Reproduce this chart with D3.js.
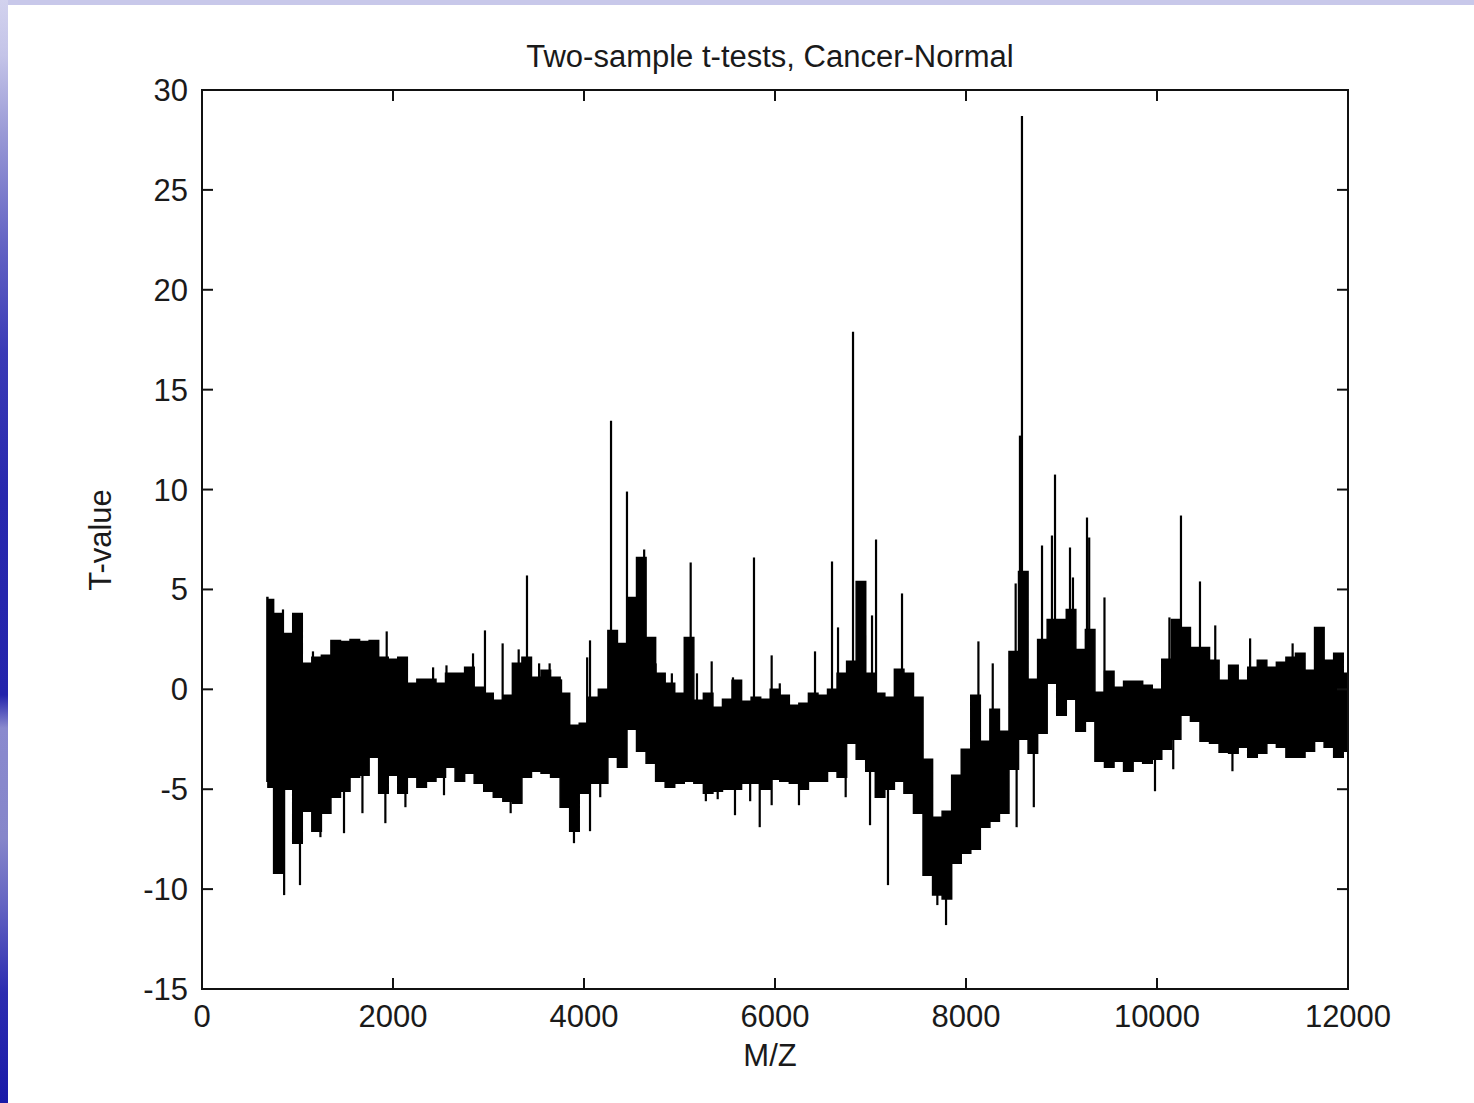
<!DOCTYPE html>
<html>
<head>
<meta charset="utf-8">
<script src="https://cdn.jsdelivr.net/npm/d3@7"></script>
<style>
  html, body { margin: 0; padding: 0; background: #ffffff; }
  svg { display: block; }
  text { font-family: "Liberation Sans", Arial, Helvetica, sans-serif; fill: #1a1a1a; }
</style>
</head>
<body>
<svg id="chart" width="1474" height="1103"></svg>
<script>
// ---------------- data ----------------
const title = "Two-sample t-tests, Cancer-Normal";
const xLabel = "M/Z";
const yLabel = "T-value";
const xTicks = [0, 2000, 4000, 6000, 8000, 10000, 12000];
const yTicks = [-15, -10, -5, 0, 5, 10, 15, 20, 25, 30];

// M/Z sample positions of the dense signal envelope
const mz = [680, 700, 800, 900, 1000, 1100, 1200, 1300, 1400, 1500, 1600, 1700, 1800, 1900,
  2000, 2100, 2200, 2300, 2400, 2500, 2600, 2700, 2800, 2900,
  3000, 3100, 3200, 3300, 3400, 3500, 3600, 3700, 3800, 3900,
  4000, 4100, 4200, 4300, 4400, 4500, 4600, 4700, 4800, 4900,
  5000, 5100, 5200, 5300, 5400, 5500, 5600, 5700, 5800, 5900,
  6000, 6100, 6200, 6300, 6400, 6500, 6600, 6700, 6800, 6900,
  7000, 7100, 7200, 7300, 7400, 7500, 7600, 7700, 7800, 7900,
  8000, 8100, 8200, 8300, 8400, 8500, 8600, 8700, 8800, 8900,
  9000, 9100, 9200, 9300, 9400, 9500, 9600, 9700, 9800, 9900,
  10000, 10100, 10200, 10300, 10400, 10500, 10600, 10700, 10800, 10900,
  11000, 11100, 11200, 11300, 11400, 11500, 11600, 11700, 11800, 11900, 12000];

// upper edge of the dense band of t-values
const tHigh = [4.6, 4.5, 3.8, 2.8, 3.8, 1.3, 1.6, 1.7, 2.45, 2.4, 2.5, 2.4, 2.45, 1.6,
  1.5, 1.6, 0.3, 0.5, 0.5, 0.3, 0.8, 0.8, 1.1, 0.1,
  -0.2, -0.55, -0.3, 1.3, 1.6, 0.6, 0.95, 0.6, -0.2, -1.8,
  -1.7, -0.4, 0.0, 2.95, 2.3, 4.6, 6.6, 2.6, 0.8, 0.3,
  -0.2, 2.6, -0.55, -0.2, -0.9, -0.5, 0.45, -0.6, -0.4, -0.5,
  0.0, -0.3, -0.8, -0.7, -0.2, -0.3, 0.0, 0.8, 1.4, 5.4,
  0.8, -0.2, -0.4, 1.0, 0.8, -0.4, -3.5, -6.4, -6.1, -4.3,
  -3.0, -0.3, -2.6, -1.0, -2.1, 1.9, 5.9, 0.5, 2.5, 3.5,
  3.5, 4.0, 2.0, 3.0, -0.15, 0.9, 0.1, 0.4, 0.4, 0.2,
  0.0, 1.5, 3.5, 3.1, 2.1, 2.1, 1.45, 0.45, 1.2, 0.45,
  1.1, 1.45, 1.1, 1.35, 1.6, 1.8, 0.95, 3.1, 1.45, 1.8, 0.8];

// lower edge of the dense band of t-values
const tLow = [-4.6, -4.9, -9.2, -5.0, -7.7, -6.1, -7.1, -6.2, -5.4, -5.1, -4.4, -4.3, -3.4, -5.2,
  -4.3, -5.2, -4.4, -4.9, -4.6, -4.4, -3.9, -4.6, -4.2, -4.7,
  -5.1, -5.4, -5.6, -5.7, -4.4, -4.1, -4.2, -4.4, -5.9, -7.1,
  -5.2, -4.7, -4.7, -3.4, -3.9, -2.0, -3.1, -3.7, -4.6, -4.9,
  -4.7, -4.6, -4.7, -5.2, -5.1, -5.0, -5.0, -4.7, -4.7, -5.0,
  -4.5, -4.6, -4.7, -5.0, -4.6, -4.6, -4.1, -4.4, -2.7, -3.5,
  -4.1, -5.4, -5.0, -4.6, -5.2, -6.2, -9.3, -10.3, -10.5, -8.7,
  -8.2, -8.0, -6.9, -6.6, -6.2, -4.0, -2.5, -3.2, -2.2, 0.3,
  -1.3, -0.5, -2.1, -1.6, -3.6, -3.9, -3.6, -4.1, -3.6, -3.7,
  -3.5, -3.0, -2.5, -1.3, -1.6, -2.6, -2.7, -3.15, -3.2, -2.9,
  -3.4, -3.2, -2.7, -2.9, -3.4, -3.4, -3.1, -2.6, -2.9, -3.4, -3.1];

// isolated narrow peaks above the band
const peakUpMz = [848, 1162, 1934, 2130, 2420, 2560, 2838, 2963, 3148, 3316, 3403, 3530, 3640, 3760,
  4033, 4063, 4283, 4450, 4630, 4750, 4920, 5117, 5183, 5337, 5560, 5780, 5965, 6050,
  6419, 6597, 6660, 6817, 6942, 7016, 7058, 7330,
  8130, 8280, 8520, 8565, 8586, 8796, 8900, 8932, 9089, 9120, 9267, 9290, 9450,
  10130, 10251, 10450, 10610, 10975, 11420];
const peakUpT = [4.0, 1.9, 2.9, 1.4, 1.1, 1.2, 1.8, 2.95, 2.3, 2.0, 5.7, 1.3, 1.3, 0.5,
  1.6, 2.45, 13.45, 9.9, 7.0, 1.3, 0.8, 6.35, 0.8, 1.4, 0.6, 6.6, 1.7, 0.3,
  1.9, 6.4, 3.1, 17.9, 2.7, 3.7, 7.5, 4.8,
  2.4, 1.3, 5.3, 12.7, 28.7, 7.2, 7.7, 10.75, 7.1, 5.6, 8.6, 7.6, 4.6,
  3.6, 8.7, 5.4, 3.2, 2.55, 2.3];

// isolated narrow dips below the band
const peakDownMz = [860, 1026, 1240, 1487, 1680, 1920, 2130, 2534, 3060, 3232, 3895, 4063, 4170,
  5276, 5400, 5581, 5740, 5840, 5965, 6251, 6740, 6995, 7183, 7700, 7791, 8530, 8710,
  9979, 10170, 10790];
const peakDownT = [-10.3, -9.8, -7.4, -7.2, -6.2, -6.7, -5.9, -5.3, -5.4, -6.2, -7.7, -7.1, -5.4,
  -5.6, -5.5, -6.3, -5.6, -6.9, -5.8, -5.8, -5.4, -6.8, -9.8, -10.8, -11.8, -6.9, -5.9,
  -5.1, -4.0, -4.1];

// ---------------- drawing ----------------
const W = 1474, H = 1103;
const svg = d3.select("#chart");

// slide decoration: blue gradient strip on the left, lavender band on top
const defs = svg.append("defs");
const grad = defs.append("linearGradient").attr("id", "strip")
  .attr("x1", 0).attr("y1", 0).attr("x2", 0).attr("y2", 1);
[[0, "#d2d2ee"], [0.05, "#c4c4e8"], [0.12, "#9a9ad6"], [0.22, "#6464c4"], [0.32, "#3a3ab6"],
 [0.45, "#2828ae"], [0.63, "#2424ac"], [0.66, "#8a8ace"], [0.76, "#8686ca"], [0.82, "#6464c2"],
 [0.9, "#2c2cb0"], [1, "#1a1aa8"]].forEach(([o, c]) => grad.append("stop").attr("offset", o).attr("stop-color", c));
svg.append("rect").attr("x", 0).attr("y", 0).attr("width", W).attr("height", 5).attr("fill", "#c8c8ea");
svg.append("rect").attr("x", 0).attr("y", 0).attr("width", 8).attr("height", H).attr("fill", "url(#strip)");

const x = d3.scaleLinear().domain([0, 12000]).range([202, 1348]);
const y = d3.scaleLinear().domain([-15, 30]).range([989, 90]);

defs.append("clipPath").attr("id", "plotclip").append("rect")
  .attr("x", x(0)).attr("y", y(30)).attr("width", x(12000) - x(0)).attr("height", y(-15) - y(30));

const plot = svg.append("g").attr("clip-path", "url(#plotclip)");

const band = mz.map((m, i) => ({ m, hi: tHigh[i], lo: tLow[i] }));
const area = d3.area().curve(d3.curveStep)
  .x(d => x(d.m)).y0(d => y(d.lo)).y1(d => y(d.hi));
plot.append("path").datum(band).attr("d", area)
  .attr("fill", "#000").attr("stroke", "#000").attr("stroke-width", 1.5);

function bandMid(m) {
  let best = 0;
  for (let i = 1; i < mz.length; i++) if (Math.abs(mz[i] - m) < Math.abs(mz[best] - m)) best = i;
  return (tHigh[best] + tLow[best]) / 2;
}
const peaks = peakUpMz.map((m, i) => ({ m, t: peakUpT[i] }))
  .concat(peakDownMz.map((m, i) => ({ m, t: peakDownT[i] })));
plot.selectAll("line.peak").data(peaks).join("line").attr("class", "peak")
  .attr("x1", d => x(d.m)).attr("x2", d => x(d.m))
  .attr("y1", d => y(bandMid(d.m))).attr("y2", d => y(d.t))
  .attr("stroke", "#000").attr("stroke-width", 2.2);

// axes box with inward ticks on all four sides
const tickLen = 11;
const axisG = svg.append("g");
axisG.append("rect").attr("x", x(0)).attr("y", y(30)).attr("width", x(12000) - x(0)).attr("height", y(-15) - y(30))
  .attr("fill", "none").attr("stroke", "#111").attr("stroke-width", 2);
xTicks.forEach(t => {
  axisG.append("line").attr("x1", x(t)).attr("x2", x(t)).attr("y1", y(-15)).attr("y2", y(-15) - tickLen)
    .attr("stroke", "#111").attr("stroke-width", 2);
  axisG.append("line").attr("x1", x(t)).attr("x2", x(t)).attr("y1", y(30)).attr("y2", y(30) + tickLen)
    .attr("stroke", "#111").attr("stroke-width", 2);
  axisG.append("text").attr("x", x(t)).attr("y", 1027).attr("text-anchor", "middle")
    .attr("font-size", 31).text(t);
});
yTicks.forEach(t => {
  axisG.append("line").attr("x1", x(0)).attr("x2", x(0) + tickLen).attr("y1", y(t)).attr("y2", y(t))
    .attr("stroke", "#111").attr("stroke-width", 2);
  axisG.append("line").attr("x1", x(12000)).attr("x2", x(12000) - tickLen).attr("y1", y(t)).attr("y2", y(t))
    .attr("stroke", "#111").attr("stroke-width", 2);
  axisG.append("text").attr("x", 188).attr("y", y(t) + 11).attr("text-anchor", "end")
    .attr("font-size", 31).text(t);
});

svg.append("text").attr("x", 770).attr("y", 67).attr("text-anchor", "middle")
  .attr("font-size", 31).text(title);
svg.append("text").attr("x", 770).attr("y", 1066).attr("text-anchor", "middle")
  .attr("font-size", 31).text(xLabel);
svg.append("text").attr("transform", "translate(111,540) rotate(-90)").attr("text-anchor", "middle")
  .attr("font-size", 31).text(yLabel);
</script>
</body>
</html>
